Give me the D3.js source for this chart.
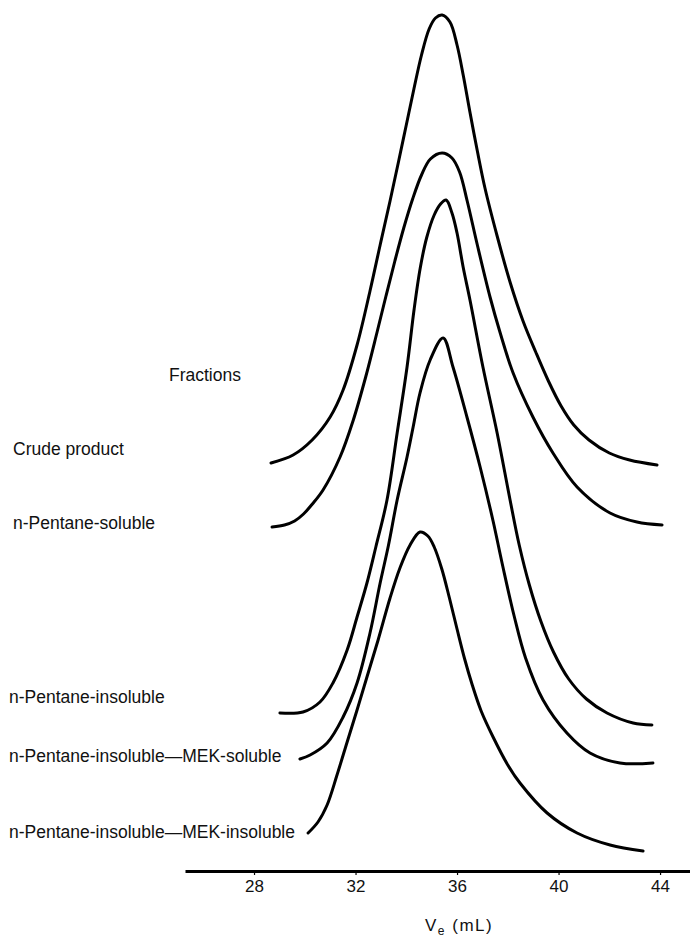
<!DOCTYPE html>
<html lang="en">
  <head>
    <meta charset="utf-8" />
    <script src="https://d3js.org/d3.v7.min.js"></script>
    <style>
      body {
        margin: 0;
        background: #fff;
      }
      text {
        font-family: "Liberation Sans", Arial, sans-serif;
        fill: #111;
      }
    </style>
    <title>GPC fractions</title>
  </head>

  <body>
    <svg id="chart" width="690" height="937"></svg>

    <script>
      // elution volume (mL) vs detector response, each trace already offset
      const tickValues = [28, 32, 36, 40, 44];
      const fractionNames = [
        "Crude product",
        "n-Pentane-soluble",
        "n-Pentane-insoluble",
        "n-Pentane-insoluble\u2014MEK-soluble",
        "n-Pentane-insoluble\u2014MEK-insoluble",
      ];

      const crudeProduct = [
        [28.67, 40.8], [29.54, 41.6], [30.29, 43.1], [31.0, 45.4], [31.51, 48.1],
        [32.06, 52.6], [32.57, 58.0], [32.97, 62.6], [33.36, 67.0], [33.7, 71.0],
        [34.0, 74.6], [34.3, 78.2], [34.6, 81.6], [34.9, 84.2], [35.15, 85.3],
        [35.41, 85.6], [35.72, 84.9], [36.0, 82.6], [36.25, 79.5], [36.5, 76.0],
        [36.8, 72.0], [37.1, 68.3], [37.58, 63.5], [38.1, 58.8], [38.6, 55.0],
        [39.1, 51.9], [39.6, 49.0], [40.1, 46.5], [40.6, 44.6], [41.2, 43.1],
        [42.0, 41.8], [42.8, 41.1], [43.88, 40.6],
      ];
      const pentaneSoluble = [
        [28.71, 34.4], [29.2, 34.6], [29.6, 35.0], [29.95, 35.7], [30.3, 36.7],
        [30.72, 38.1], [31.39, 41.4], [31.9, 45.0], [32.4, 49.4], [32.85, 53.9],
        [33.2, 57.5], [33.55, 61.0], [33.9, 64.3], [34.25, 67.2], [34.6, 69.6],
        [34.95, 71.2], [35.41, 71.8], [35.8, 71.3], [36.1, 69.9], [36.4, 67.0],
        [36.8, 62.6], [37.3, 57.4], [37.69, 53.9], [38.21, 49.8], [38.99, 45.4],
        [39.78, 41.8], [40.73, 38.4], [42.03, 35.8], [43.09, 34.9], [44.08, 34.6],
      ];
      const pentaneInsoluble = [
        [29.02, 15.8], [29.93, 15.9], [30.6, 16.9], [31.11, 18.8], [31.67, 22.1],
        [32.06, 25.4], [32.45, 28.8], [32.8, 32.4], [33.24, 37.1], [33.64, 43.8],
        [34.03, 50.4], [34.31, 56.2], [34.55, 60.3], [34.8, 63.3], [35.1, 65.6],
        [35.35, 66.7], [35.57, 67.1], [35.8, 65.8], [36.0, 63.8], [36.24, 60.4],
        [36.51, 57.1], [37.02, 50.4], [37.58, 43.8], [38.09, 37.1], [38.45, 32.6],
        [38.85, 28.6], [39.3, 25.0], [39.8, 21.9], [40.4, 19.2], [41.1, 17.2],
        [41.91, 15.8], [42.94, 14.8], [43.68, 14.6],
      ];
      const mekSoluble = [
        [29.81, 11.2], [30.21, 11.6], [30.88, 12.8], [31.51, 15.4], [32.06, 18.8],
        [32.57, 23.8], [32.97, 28.8], [33.3, 32.6], [33.64, 37.1], [34.03, 41.4],
        [34.27, 44.4], [34.54, 47.8], [34.94, 51.1], [35.45, 53.3], [35.84, 50.4],
        [36.39, 45.4], [36.91, 40.4], [37.42, 35.0], [37.8, 30.5], [38.25, 25.5],
        [38.7, 21.3], [39.39, 17.1], [40.33, 13.8], [41.24, 11.8], [42.42, 10.8],
        [43.72, 10.8],
      ];
      const mekInsoluble = [
        [30.13, 3.8], [30.52, 4.9], [30.88, 6.6], [31.27, 9.6], [31.67, 12.9],
        [32.06, 16.1], [32.45, 19.4], [32.89, 23.1], [33.36, 27.3], [33.75, 30.3],
        [34.15, 32.6], [34.54, 33.9], [34.85, 33.5], [35.1, 32.4], [35.4, 30.2],
        [35.7, 27.3], [36.0, 24.2], [36.3, 21.2], [36.6, 18.6], [36.95, 16.0],
        [37.42, 13.4], [38.0, 10.6], [38.48, 8.8], [39.55, 5.8], [40.73, 3.8],
        [42.03, 2.6], [43.33, 2.0],
      ];
      const traces = [crudeProduct, pentaneSoluble, pentaneInsoluble, mekSoluble, mekInsoluble];

      // label layout (left column)
      const labelX = [13, 13, 9, 9, 9];
      const labelY = [455, 529, 703, 762, 838];

      const svg = d3.select("svg#chart");

      const x = d3.scaleLinear().domain([25.28, 45.18]).range([185, 690]);
      const y = d3.scaleLinear().domain([0, 86]).range([871, 11]);

      const line = d3
        .line()
        .x(d => x(d[0]))
        .y(d => y(d[1]))
        .curve(d3.curveCatmullRom.alpha(0.5));

      svg
        .append("g")
        .attr("id", "traces")
        .selectAll("path")
        .data(traces)
        .join("path")
        .attr("d", line)
        .attr("fill", "none")
        .attr("stroke", "#000")
        .attr("stroke-width", 3)
        .attr("stroke-linecap", "round")
        .attr("stroke-linejoin", "round");

      // x axis
      const axisG = svg
        .append("g")
        .attr("transform", `translate(0,${y(0)})`)
        .call(
          d3
            .axisBottom(x)
            .tickValues(tickValues)
            .tickSizeInner(4)
            .tickSizeOuter(0)
            .tickPadding(5)
        );
      axisG.select(".domain").attr("stroke", "#000").attr("stroke-width", 3);
      axisG.selectAll(".tick line").attr("stroke", "#000").attr("stroke-width", 1.2);
      axisG
        .selectAll(".tick text")
        .attr("fill", "#111")
        .style("font-family", '"Liberation Sans", Arial, sans-serif')
        .style("font-size", "17px");

      const title = svg
        .append("text")
        .attr("x", 425)
        .attr("y", 931)
        .style("font-size", "17px")
        .style("letter-spacing", "1.5px");
      title.append("tspan").text("V");
      title
        .append("tspan")
        .attr("dy", 4)
        .style("font-size", "12px")
        .text("e");
      title.append("tspan").attr("dy", -4).text(" (mL)");

      // legend column
      svg
        .append("text")
        .attr("x", 169)
        .attr("y", 381)
        .style("font-size", "17.5px")
        .text("Fractions");

      svg
        .append("g")
        .selectAll("text")
        .data(fractionNames)
        .join("text")
        .attr("x", (d, i) => labelX[i])
        .attr("y", (d, i) => labelY[i])
        .style("font-size", "17.5px")
        .text(d => d);
    </script>
  </body>
</html>
